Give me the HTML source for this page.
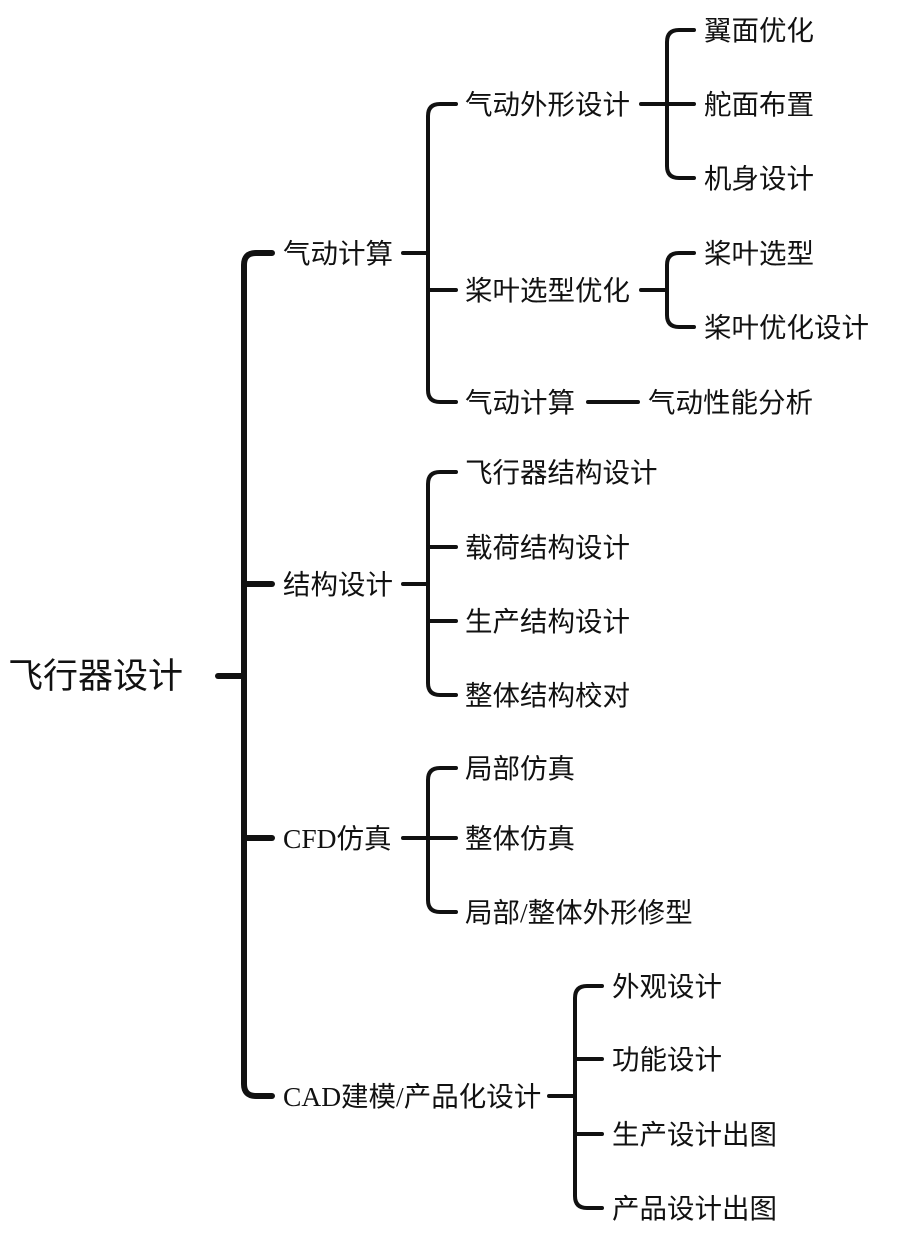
<!DOCTYPE html>
<html><head><meta charset="utf-8"><style>
html,body{margin:0;padding:0;background:#fff;width:900px;height:1240px;overflow:hidden}
svg text{font-family:"Liberation Serif","Noto Sans CJK SC",sans-serif;font-size:27.5px;fill:#111}
</style></head><body>
<svg width="900" height="1240" viewBox="0 0 900 1240" xmlns="http://www.w3.org/2000/svg">
<g fill="none" stroke="#111" stroke-linecap="round" stroke-linejoin="round">
<g stroke-width="6">
<path d="M218 676 H244"/>
<path d="M272 253 H256 Q244 253 244 265 V1084 Q244 1096 256 1096 H272"/>
<path d="M244 584 H272"/>
<path d="M244 838 H272"/>
</g>
<g stroke-width="4">
<path d="M403 253 H428"/>
<path d="M456 104 H440 Q428 104 428 116 V390 Q428 402 440 402 H456"/>
<path d="M428 290 H456"/>
<path d="M588 402 H638"/>
<path d="M641 104 H694"/>
<path d="M694 30 H679 Q667 30 667 42 V166 Q667 178 679 178 H694"/>
<path d="M641 290 H667"/>
<path d="M694 253 H679 Q667 253 667 265 V315 Q667 327 679 327 H694"/>
<path d="M403 584 H428"/>
<path d="M456 472 H440 Q428 472 428 484 V683 Q428 695 440 695 H456"/>
<path d="M428 547 H456"/>
<path d="M428 621 H456"/>
<path d="M403 838 H428"/>
<path d="M456 768 H440 Q428 768 428 780 V900 Q428 912 440 912 H456"/>
<path d="M428 838 H456"/>
<path d="M549 1096 H575"/>
<path d="M602 986 H587 Q575 986 575 998 V1196 Q575 1208 587 1208 H602"/>
<path d="M575 1059 H602"/>
<path d="M575 1134 H602"/>
</g>
</g>
<text x="8" y="688" style="font-size:35px">飞行器设计</text>
<text x="283" y="263">气动计算</text>
<text x="283" y="594">结构设计</text>
<text x="283" y="848">CFD仿真</text>
<text x="283" y="1106">CAD建模/产品化设计</text>
<text x="465" y="114">气动外形设计</text>
<text x="465" y="300">桨叶选型优化</text>
<text x="465" y="412">气动计算</text>
<text x="648" y="412">气动性能分析</text>
<text x="704" y="40">翼面优化</text>
<text x="704" y="114">舵面布置</text>
<text x="704" y="188">机身设计</text>
<text x="704" y="263">桨叶选型</text>
<text x="704" y="337">桨叶优化设计</text>
<text x="465" y="482">飞行器结构设计</text>
<text x="465" y="557">载荷结构设计</text>
<text x="465" y="631">生产结构设计</text>
<text x="465" y="705">整体结构校对</text>
<text x="465" y="778">局部仿真</text>
<text x="465" y="848">整体仿真</text>
<text x="465" y="922">局部/整体外形修型</text>
<text x="612" y="996">外观设计</text>
<text x="612" y="1069">功能设计</text>
<text x="612" y="1144">生产设计出图</text>
<text x="612" y="1218">产品设计出图</text>
</svg>
</body></html>
